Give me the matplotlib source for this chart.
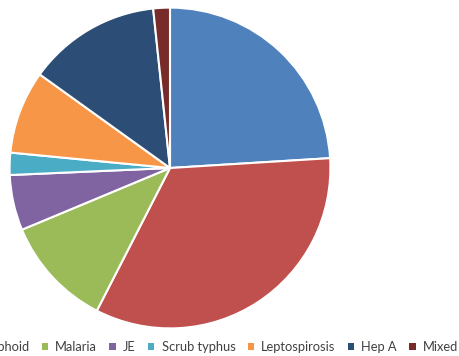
import matplotlib.pyplot as plt
from matplotlib.patches import Patch

# fever cases by cause
labels = ["Dengue", "Typhoid", "Malaria", "JE", "Scrub typhus",
          "Leptospirosis", "Hep A", "Mixed"]
cases = [43, 60, 20, 10, 4, 15, 24, 3]
colors = ["#4F81BD", "#C0504D", "#9BBB59", "#8064A2", "#4BACC6",
          "#F79646", "#2C4D75", "#772C2A"]

plt.rcParams['font.family'] = ['Lato', 'DejaVu Sans']

fig = plt.figure(figsize=(4.6, 3.56), dpi=100)
# pie centre at ~(170,168) px, radius ~162 px
ax = fig.add_axes([8 / 460, 26 / 356, 324 / 460, 324 / 356])
ax.pie(cases, colors=colors, startangle=90, counterclock=False,
       wedgeprops=dict(edgecolor="white", linewidth=1.5))
ax.set_xlim(-1.01, 1.01)
ax.set_ylim(-1.01, 1.01)
ax.set_aspect("equal")

handles = [Patch(facecolor=c, edgecolor="none") for c in colors]
fig.legend(handles, labels, ncol=8, loc="center right",
           bbox_to_anchor=(462 / 460, 1 - 347 / 356), frameon=False,
           fontsize=9.3, handlelength=0.5, handleheight=0.5,
           handletextpad=0.55, columnspacing=0.95, borderaxespad=0.2,
           borderpad=0.1, labelcolor="#404040")

fig.savefig("out.png", dpi=100)
